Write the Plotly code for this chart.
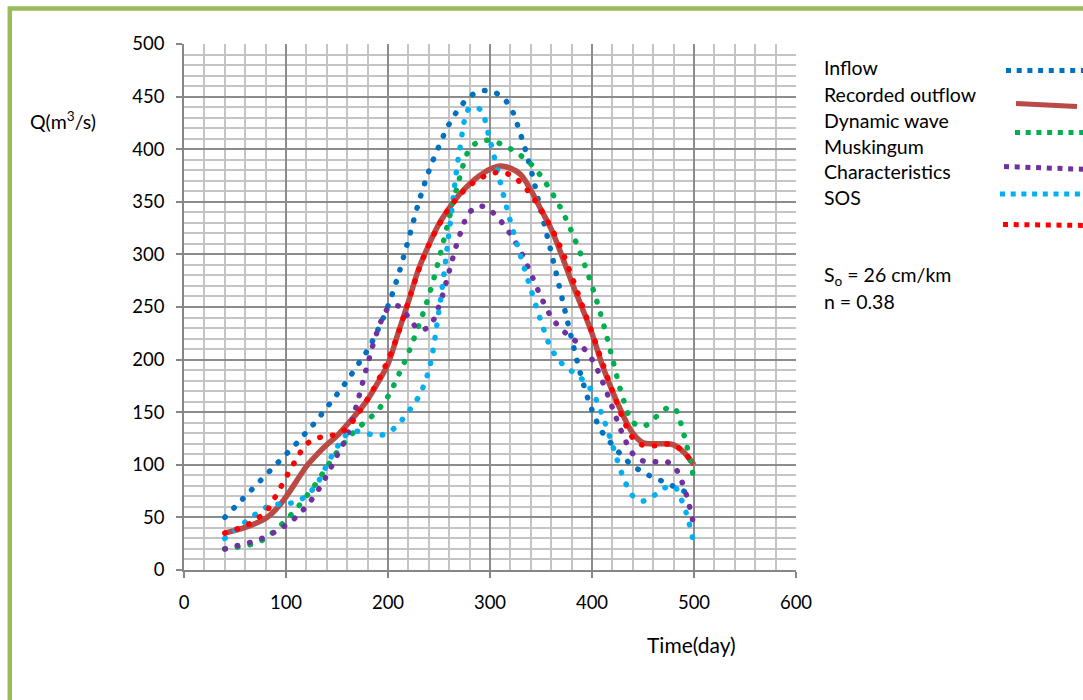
import plotly.graph_objects as go

# ---------------- data ----------------
time_days = [40, 50, 60, 70, 80, 90, 100, 110, 120, 130, 140, 150, 160, 170, 180, 190,
             200, 210, 220, 230, 240, 250, 260, 270, 280, 290, 300, 310, 320, 330, 340,
             350, 360, 370, 380, 390, 400, 410, 420, 430, 440, 450, 460, 470, 480, 490, 500]

inflow = [50, 60, 70, 80, 90, 100, 110, 120, 131, 142, 154.5, 167, 180, 194.5, 209, 228,
          251, 280, 314, 349, 379, 403, 424, 439, 450, 455, 455.5, 451, 440, 414, 381,
          341, 302, 261, 220, 182, 152, 131, 119, 108, 99, 93, 88, 84, 79.5, 75, 70]

recorded_outflow = [35, 37.7, 40.5, 44.3, 49, 57.5, 69.6, 84, 98.5, 109.5, 119, 127.5, 138.3, 149.5, 162, 178,
                    196, 225.5, 255, 286, 309, 329, 344, 357, 367, 375, 381, 384, 382, 376, 361,
                    342.7, 324, 300, 274, 250, 225, 195, 170, 148, 130, 121, 120, 120, 119, 112, 100]

dynamic_wave = [20, 21.3, 23.3, 25.3, 30.4, 38, 47.5, 58, 70, 83, 98, 112, 124, 134.5, 142.5, 152,
                165, 184.7, 206.4, 232, 260.5, 295.5, 334.4, 372, 400, 407.5, 408.4, 405.3, 400.5, 394, 386,
                374.5, 359.7, 342.8, 321.7, 297.5, 270, 238, 201, 164.4, 140.6, 136.5, 143, 152, 154.5, 129, 86]

muskingum = [20, 22.5, 25, 27.7, 31.6, 36.6, 42.7, 50.4, 60.6, 73.7, 90, 108.8, 128.2, 159.5, 195.7, 228,
             248.5, 251, 240.5, 229, 231, 251, 284, 317.7, 340, 346, 342, 332.4, 319.3, 303, 282,
             259.6, 240.7, 228.9, 220.6, 212.7, 200.2, 179.8, 154.3, 129.2, 110.5, 103.7, 102.7, 103.6, 99, 79, 42]

characteristics = [30, 37.9, 45.6, 53, 59.3, 62.2, 63, 64.8, 70.7, 81.4, 99.6, 116.7, 129.2, 131.8, 129.6, 127.8,
                   130.3, 138.6, 150.5, 164.6, 190, 246.5, 321.5, 397.6, 439, 438, 408.4, 368.7, 331.4, 298.5, 267,
                   236.4, 210.5, 196.8, 189, 181.6, 170, 147.3, 118.9, 90, 70.5, 65.6, 70.3, 77.5, 79.8, 61, 25]

sos = [35, 38.4, 41.7, 48, 55, 70.4, 88, 105, 119.5, 125, 127.5, 129, 135, 147.7, 162.4, 179.7,
       199.6, 225, 255, 285, 309, 328, 344, 356, 365.5, 372, 376.5, 378, 375.5, 368.2, 357,
       342.5, 325.4, 304.7, 279.6, 252.7, 226, 197.7, 170.3, 145, 125.5, 118.5, 118, 119.5, 119, 112, 100]

series_names = ["Inflow", "Recorded outflow", "Dynamic wave", "Muskingum", "Characteristics", "SOS"]
x_ticks = [0, 100, 200, 300, 400, 500, 600]
y_ticks = [0, 50, 100, 150, 200, 250, 300, 350, 400, 450, 500]

# ---------------- styling ----------------
W, H = 1083, 700
ML, MR, MT, MB = 184, 287, 44, 130
PW, PH = W - ML - MR, H - MT - MB
FONT = "Lato"

def px(xp):
    return (xp - ML) / PW

def py(yp):
    return (H - MB - yp) / PH

DOT = "5px,7.5px"
colors = {
    "Inflow": "#0070C0",
    "Recorded outflow": "#B94A45",
    "Dynamic wave": "#00B050",
    "Muskingum": "#7030A0",
    "Characteristics": "#00B0F0",
    "SOS": "#FF0000",
}
values = {
    "Inflow": inflow,
    "Recorded outflow": recorded_outflow,
    "Dynamic wave": dynamic_wave,
    "Muskingum": muskingum,
    "Characteristics": characteristics,
    "SOS": sos,
}

fig = go.Figure()
for name in series_names:
    solid = name == "Recorded outflow"
    fig.add_trace(go.Scatter(
        x=time_days, y=values[name], mode="lines", name=name,
        line=dict(color=colors[name], width=5.5 if solid else 5.5, shape="spline", smoothing=1,
                  dash="solid" if solid else DOT),
        showlegend=False, hoverinfo="skip",
    ))

axis_common = dict(
    showline=True, linecolor="#868686", linewidth=1.5,
    ticks="outside", ticklen=6, tickcolor="#868686", tickwidth=1.5,
    showgrid=True, gridcolor="#8C8C8C", gridwidth=1.5,
    zeroline=False,
    tickfont=dict(family=FONT, size=18.5, color="#000000"),
)
fig.update_xaxes(range=[0, 600], tickvals=x_ticks, ticklabelstandoff=9,
                 minor=dict(dtick=20, showgrid=True, gridcolor="#C4C4C4", gridwidth=2, ticks=""),
                 **axis_common)
fig.update_yaxes(range=[0, 500], tickvals=y_ticks, ticklabelstandoff=8,
                 minor=dict(dtick=10, showgrid=True, gridcolor="#C4C4C4", gridwidth=2, ticks=""),
                 **axis_common)

annotations = []
def add_text(text, xp, yp, size=18, xanchor="left"):
    annotations.append(dict(text=text, x=px(xp), y=py(yp), xref="paper", yref="paper",
                            xanchor=xanchor, yanchor="middle", showarrow=False,
                            font=dict(family=FONT, size=size, color="#000000")))

add_text("Q(m<sup>3</sup>/s)", 28, 120, size=19.5)
add_text("Time(day)", 691, 644, size=21, xanchor="center")

label_y = [68, 94, 120, 146, 171, 197]
for name, yy in zip(series_names, label_y):
    add_text(name, 822, yy, size=19.5)
add_text("S<sub>o</sub> = 26 cm/km", 822, 276, size=19.5)
add_text("n = 0.38", 822, 301, size=19.5)

shapes = []
# outer green frame
shapes.append(dict(type="rect", xref="paper", yref="paper",
                   x0=px(9.8), x1=px(1100), y0=py(703), y1=py(8.5),
                   line=dict(color="#9BBB59", width=4.5), layer="above"))
# legend samples (to the right of the labels)
samples = [
    ("Inflow", 1006, 70.5, 1090, 70.5),
    ("Recorded outflow", 1016, 103.5, 1077, 106.5),
    ("Dynamic wave", 1015, 132.5, 1090, 132.5),
    ("Muskingum", 1004, 166.5, 1090, 169.5),
    ("Characteristics", 1000, 194, 1090, 194),
    ("SOS", 1003, 224.5, 1090, 225.5),
]
for name, x0, y0, x1, y1 in samples:
    solid = name == "Recorded outflow"
    shapes.append(dict(type="line", xref="paper", yref="paper",
                       x0=px(x0), y0=py(y0), x1=px(x1), y1=py(y1),
                       line=dict(color=colors[name], width=5,
                                 dash="solid" if solid else "5px,5.7px")))

fig.update_layout(
    width=W, height=H,
    margin=dict(l=ML, r=MR, t=MT, b=MB),
    paper_bgcolor="#FFFFFF", plot_bgcolor="#FFFFFF",
    showlegend=False,
    annotations=annotations, shapes=shapes,
    font=dict(family=FONT, size=18, color="#000000"),
)

# round the dots of the dotted series lines (Excel "round dot" look)
post = """
var gd = document.getElementById('{plot_id}');
if (gd) {
  gd.querySelectorAll('.scatterlayer path.js-line').forEach(function(p){
    var da = p.style.strokeDasharray;
    if (da && da !== 'none' && da.indexOf('7.5') >= 0) {
      p.style.strokeLinecap = 'round';
      p.style.strokeDasharray = '0.5px,12.3px';
    }
  });
}
"""

fig.write_html("out.html", config={"displayModeBar": False}, post_script=post)
